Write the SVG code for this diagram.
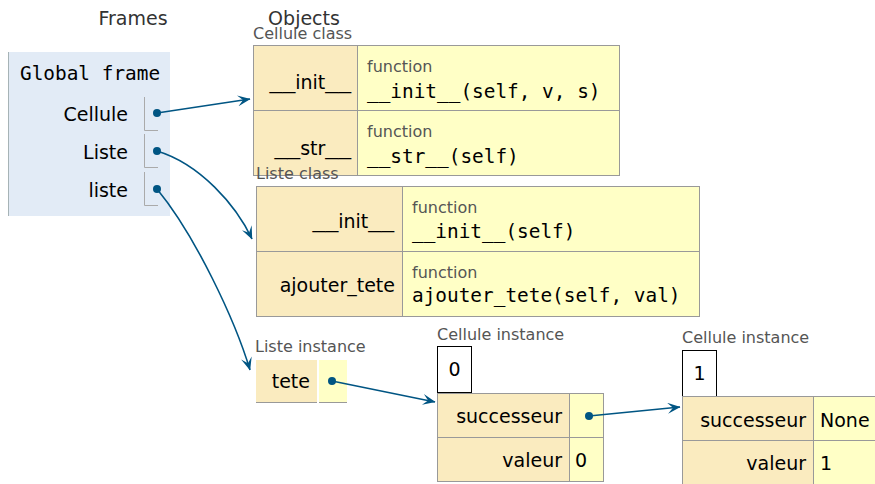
<svg xmlns="http://www.w3.org/2000/svg" width="875" height="484" viewBox="0 0 875 484">
  <defs>
    <marker id="arrow" viewBox="0 0 13 11" refX="12.5" refY="5.5" markerWidth="13" markerHeight="11" markerUnits="userSpaceOnUse" orient="auto">
      <path d="M0,0 L13,5.5 L0,11 L5.5,5.5 z" fill="#005583"/>
    </marker>
  </defs>
  <style>
    .head { font-family: "DejaVu Sans", Verdana, sans-serif; font-size: 19px; fill: #333; }
    .lbl { font-family: "DejaVu Sans", Verdana, sans-serif; font-size: 16px; fill: #555; }
    .txt { font-family: "DejaVu Sans", Verdana, sans-serif; font-size: 19px; fill: #000; }
    .r { text-anchor: end; }
    .mono { font-family: "DejaVu Sans Mono", "Liberation Mono", monospace; font-size: 19.4px; fill: #000; }
    .key { fill: #faebbf; stroke: #999; stroke-width: 1; }
    .val { fill: #ffffc6; stroke: #999; stroke-width: 1; }
    .cellLine { stroke: #999; stroke-width: 1; fill: none; }
    .varLine { stroke: #aaa; stroke-width: 1; fill: none; }
    .dot { fill: #005583; }
    .box { fill: #fff; stroke: #000; stroke-width: 1; }
    .conn { fill: none; stroke: #005583; stroke-width: 1.6; marker-end: url(#arrow); }
  </style>

  <rect width="875" height="484" fill="#fff"/>

  <!-- column headings -->
  <text class="head" x="133" y="25" text-anchor="middle">Frames</text>
  <text class="head" x="304" y="25" text-anchor="middle">Objects</text>

  <!-- global frame -->
  <g id="global-frame">
    <rect x="8" y="52" width="162" height="164" fill="#e2ebf6"/>
    <line x1="8.5" y1="52" x2="8.5" y2="216" stroke="#a6b3b6"/>
    <text class="mono" x="20" y="80">Global frame</text>
    <text class="txt r" x="128" y="121">Cellule</text>
    <path class="varLine" d="M144.5,97 V130.5 H158"/>
    <circle class="dot" cx="157" cy="113" r="4"/>
    <text class="txt r" x="128" y="159">Liste</text>
    <path class="varLine" d="M144.5,134 V167.5 H158"/>
    <circle class="dot" cx="157" cy="151" r="4"/>
    <text class="txt r" x="128" y="197">liste</text>
    <path class="varLine" d="M144.5,172 V205.5 H158"/>
    <circle class="dot" cx="157" cy="189" r="4"/>
  </g>

  <!-- Cellule class -->
  <g id="cellule-class">
    <text class="lbl" x="253" y="39">Cellule class</text>
    <rect class="key" x="253.5" y="45.5" width="104" height="65"/>
    <rect class="val" x="357.5" y="45.5" width="262" height="65"/>
    <rect class="key" x="253.5" y="110.5" width="104" height="65"/>
    <rect class="val" x="357.5" y="110.5" width="262" height="65"/>
    <text class="txt r" x="351" y="89"><tspan textLength="25.7" lengthAdjust="spacingAndGlyphs">__</tspan>init<tspan textLength="25.7" lengthAdjust="spacingAndGlyphs">__</tspan></text>
    <text class="lbl" x="367" y="72">function</text>
    <text class="mono" x="367" y="98">__init__(self, v, s)</text>
    <text class="txt r" x="351" y="155"><tspan textLength="25.7" lengthAdjust="spacingAndGlyphs">__</tspan>str<tspan textLength="25.7" lengthAdjust="spacingAndGlyphs">__</tspan></text>
    <text class="lbl" x="367" y="137">function</text>
    <text class="mono" x="367" y="163">__str__(self)</text>
  </g>

  <!-- Liste class -->
  <g id="liste-class">
    <text class="lbl" x="256" y="179">Liste class</text>
    <rect class="key" x="256.5" y="186.5" width="146" height="65"/>
    <rect class="val" x="402.5" y="186.5" width="297" height="65"/>
    <rect class="key" x="256.5" y="251.5" width="146" height="65"/>
    <rect class="val" x="402.5" y="251.5" width="297" height="65"/>
    <text class="txt r" x="394" y="228"><tspan textLength="25.7" lengthAdjust="spacingAndGlyphs">__</tspan>init<tspan textLength="25.7" lengthAdjust="spacingAndGlyphs">__</tspan></text>
    <text class="lbl" x="412" y="213">function</text>
    <text class="mono" x="412" y="238">__init__(self)</text>
    <text class="txt r" x="395" y="292">ajouter_tete</text>
    <text class="lbl" x="412" y="278">function</text>
    <text class="mono" x="412" y="302">ajouter_tete(self, val)</text>
  </g>

  <!-- Liste instance -->
  <g id="liste-instance">
    <text class="lbl" x="255" y="352">Liste instance</text>
    <rect x="256" y="360" width="61" height="43" fill="#faebbf"/>
    <rect x="319" y="360" width="28" height="43" fill="#ffffc6"/>
    <line class="cellLine" x1="256" y1="402.5" x2="317" y2="402.5"/>
    <line class="cellLine" x1="319" y1="402.5" x2="347" y2="402.5"/>
    <text class="txt r" x="310" y="388">tete</text>
    <circle class="dot" cx="332" cy="381" r="4"/>
  </g>

  <!-- Cellule instance (valeur 0) -->
  <g id="cellule-instance-0">
    <text class="lbl" x="437" y="340">Cellule instance</text>
    <rect class="box" x="437.5" y="346.5" width="34" height="46"/>
    <text class="txt" x="454.5" y="376" text-anchor="middle">0</text>
    <rect class="key" x="437.5" y="393.5" width="132" height="44"/>
    <rect class="val" x="569.5" y="393.5" width="34" height="44"/>
    <rect class="key" x="437.5" y="437.5" width="132" height="44"/>
    <rect class="val" x="569.5" y="437.5" width="34" height="44"/>
    <text class="txt r" x="562" y="423">successeur</text>
    <circle class="dot" cx="589" cy="416" r="4"/>
    <text class="txt r" x="562" y="467">valeur</text>
    <text class="txt" x="575" y="467">0</text>
  </g>

  <!-- Cellule instance (valeur 1) -->
  <g id="cellule-instance-1">
    <text class="lbl" x="682" y="343">Cellule instance</text>
    <rect class="box" x="682.5" y="350.5" width="34" height="46"/>
    <text class="txt" x="699.5" y="380" text-anchor="middle">1</text>
    <rect class="key" x="682.5" y="396.5" width="131" height="44"/>
    <rect class="val" x="813.5" y="396.5" width="80" height="44"/>
    <rect class="key" x="682.5" y="440.5" width="131" height="50"/>
    <rect class="val" x="813.5" y="440.5" width="80" height="50"/>
    <text class="txt r" x="806" y="427">successeur</text>
    <text class="txt" x="820" y="427">None</text>
    <text class="txt r" x="806" y="470">valeur</text>
    <text class="txt" x="820" y="470">1</text>
  </g>

  <!-- references -->
  <g id="connectors">
    <path class="conn" d="M157,113 L250,99"/>
    <path class="conn" d="M157,151 C200,164 236,205 252,239"/>
    <path class="conn" d="M157,189 C195,235 235,320 250,370"/>
    <path class="conn" d="M332,381 L435,402"/>
    <path class="conn" d="M589,416 L680,407"/>
  </g>
</svg>
